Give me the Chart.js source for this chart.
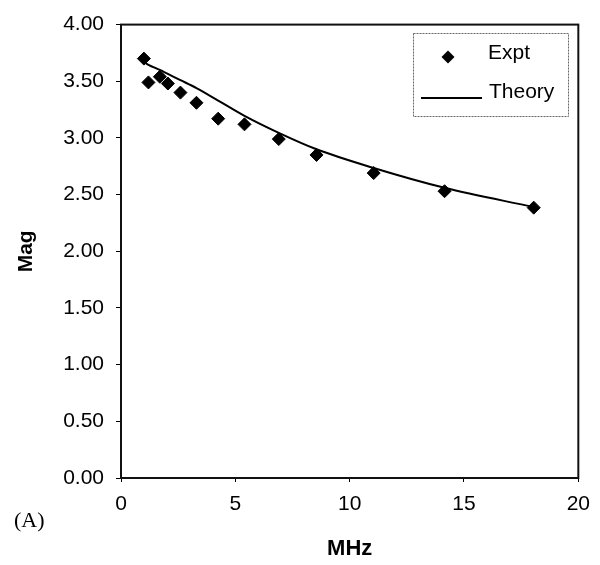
<!DOCTYPE html>
<html>
<head>
<meta charset="utf-8">
<script src="https://cdn.jsdelivr.net/npm/chart.js@4/dist/chart.umd.min.js"></script>
<style>
  html, body { margin: 0; padding: 0; background: #ffffff; }
  #wrap { width: 600px; height: 565px; position: relative; }
</style>
</head>
<body>
<div id="wrap"><canvas id="c" width="600" height="565"></canvas></div>
<script>
// ---- data ----
const freqMHz   = [1.0, 1.2, 1.7, 2.05, 2.6, 3.3, 4.25, 5.4, 6.9, 8.55, 11.05, 14.15, 18.05];
const exptMag   = [3.70, 3.49, 3.54, 3.48, 3.40, 3.31, 3.17, 3.12, 2.99, 2.85, 2.69, 2.53, 2.385];
const theoryMag = [3.67, 3.645, 3.60, 3.565, 3.51, 3.44, 3.33, 3.195, 3.045, 2.90, 2.735, 2.56, 2.39];
const seriesNames = ['Expt', 'Theory'];
const xTitle = 'MHz';
const yTitle = 'Mag';
const panelLabel = '(A)';

const exptPts = freqMHz.map((f, i) => ({ x: f, y: exptMag[i] }));
const theoryPts = freqMHz.map((f, i) => ({ x: f, y: theoryMag[i] }));

const FONT = '"Liberation Sans", Arial, sans-serif';

const framePlugin = {
  id: 'frame',
  afterDraw(chart) {
    const { ctx, chartArea: a } = chart;
    ctx.save();
    ctx.strokeStyle = '#111';
    ctx.lineWidth = 2;
    ctx.strokeRect(a.left, a.top, a.right - a.left, a.bottom - a.top);

    // legend box
    const lx = 413, ly = 33, lw = 155, lh = 83;
    ctx.lineWidth = 1;
    ctx.strokeStyle = '#666';
    ctx.setLineDash([2, 1]);
    ctx.strokeRect(lx + 0.5, ly + 0.5, lw, lh);
    ctx.setLineDash([]);

    const ds0 = chart.data.datasets[0];
    const ds1 = chart.data.datasets[1];
    // Expt entry: diamond marker
    ctx.fillStyle = '#000';
    const mx = 448, my = 57, r = 6.5;
    ctx.beginPath();
    ctx.moveTo(mx, my - r); ctx.lineTo(mx + r, my); ctx.lineTo(mx, my + r); ctx.lineTo(mx - r, my);
    ctx.closePath(); ctx.fill();
    ctx.font = '21px ' + FONT;
    ctx.textBaseline = 'middle';
    ctx.textAlign = 'left';
    ctx.fillText(ds0.label, 488, 53);

    // Theory entry: line
    ctx.strokeStyle = '#000';
    ctx.lineWidth = 2;
    ctx.beginPath(); ctx.moveTo(421, 98); ctx.lineTo(482, 98); ctx.stroke();
    ctx.fillText(ds1.label, 489, 92);

    // panel label
    ctx.font = '22px "Liberation Serif", "Times New Roman", serif';
    ctx.textAlign = 'left';
    ctx.fillText(panelLabel, 14, 521);
    ctx.restore();
  }
};

new Chart(document.getElementById('c'), {
  type: 'scatter',
  data: {
    datasets: [
      {
        label: seriesNames[0],
        data: exptPts,
        pointStyle: 'rectRot',
        pointRadius: 6.5,
        pointHoverRadius: 6.5,
        backgroundColor: '#000',
        borderColor: '#000',
        borderWidth: 1,
        showLine: false,
        order: 1
      },
      {
        label: seriesNames[1],
        data: theoryPts,
        showLine: true,
        pointRadius: 0,
        borderColor: '#000',
        borderWidth: 2,
        cubicInterpolationMode: 'monotone',
        fill: false,
        order: 2
      }
    ]
  },
  options: {
    responsive: false,
    animation: false,
    devicePixelRatio: 1,
    layout: { padding: { left: 0, right: 18, top: 23, bottom: 0 } },
    plugins: { legend: { display: false }, tooltip: { enabled: false } },
    scales: {
      x: {
        type: 'linear',
        min: 0, max: 20,
        afterFit(s) { s.height = 87; },
        ticks: { stepSize: 5, color: '#000', font: { family: FONT, size: 21 }, padding: 10, maxRotation: 0 },
        grid: { drawOnChartArea: false, drawTicks: true, tickLength: 4, color: '#000' },
        border: { display: true, color: '#000', width: 2 },
        title: { display: true, text: xTitle, color: '#000', font: { family: FONT, size: 22, weight: 'bold' }, padding: { top: 0, bottom: 3 } }
      },
      y: {
        type: 'linear',
        min: 0, max: 4,
        afterFit(s) { s.width = 121; },
        ticks: { stepSize: 0.5, color: '#000', font: { family: FONT, size: 21 }, padding: 12,
                 callback: v => v.toFixed(2) },
        grid: { drawOnChartArea: false, drawTicks: true, tickLength: 5, color: '#000' },
        border: { display: true, color: '#000', width: 2 },
        title: { display: true, text: yTitle, color: '#000', font: { family: FONT, size: 21, weight: 'bold' }, padding: { top: 14, bottom: 0 } }
      }
    }
  },
  plugins: [framePlugin]
});
</script>
</body>
</html>
